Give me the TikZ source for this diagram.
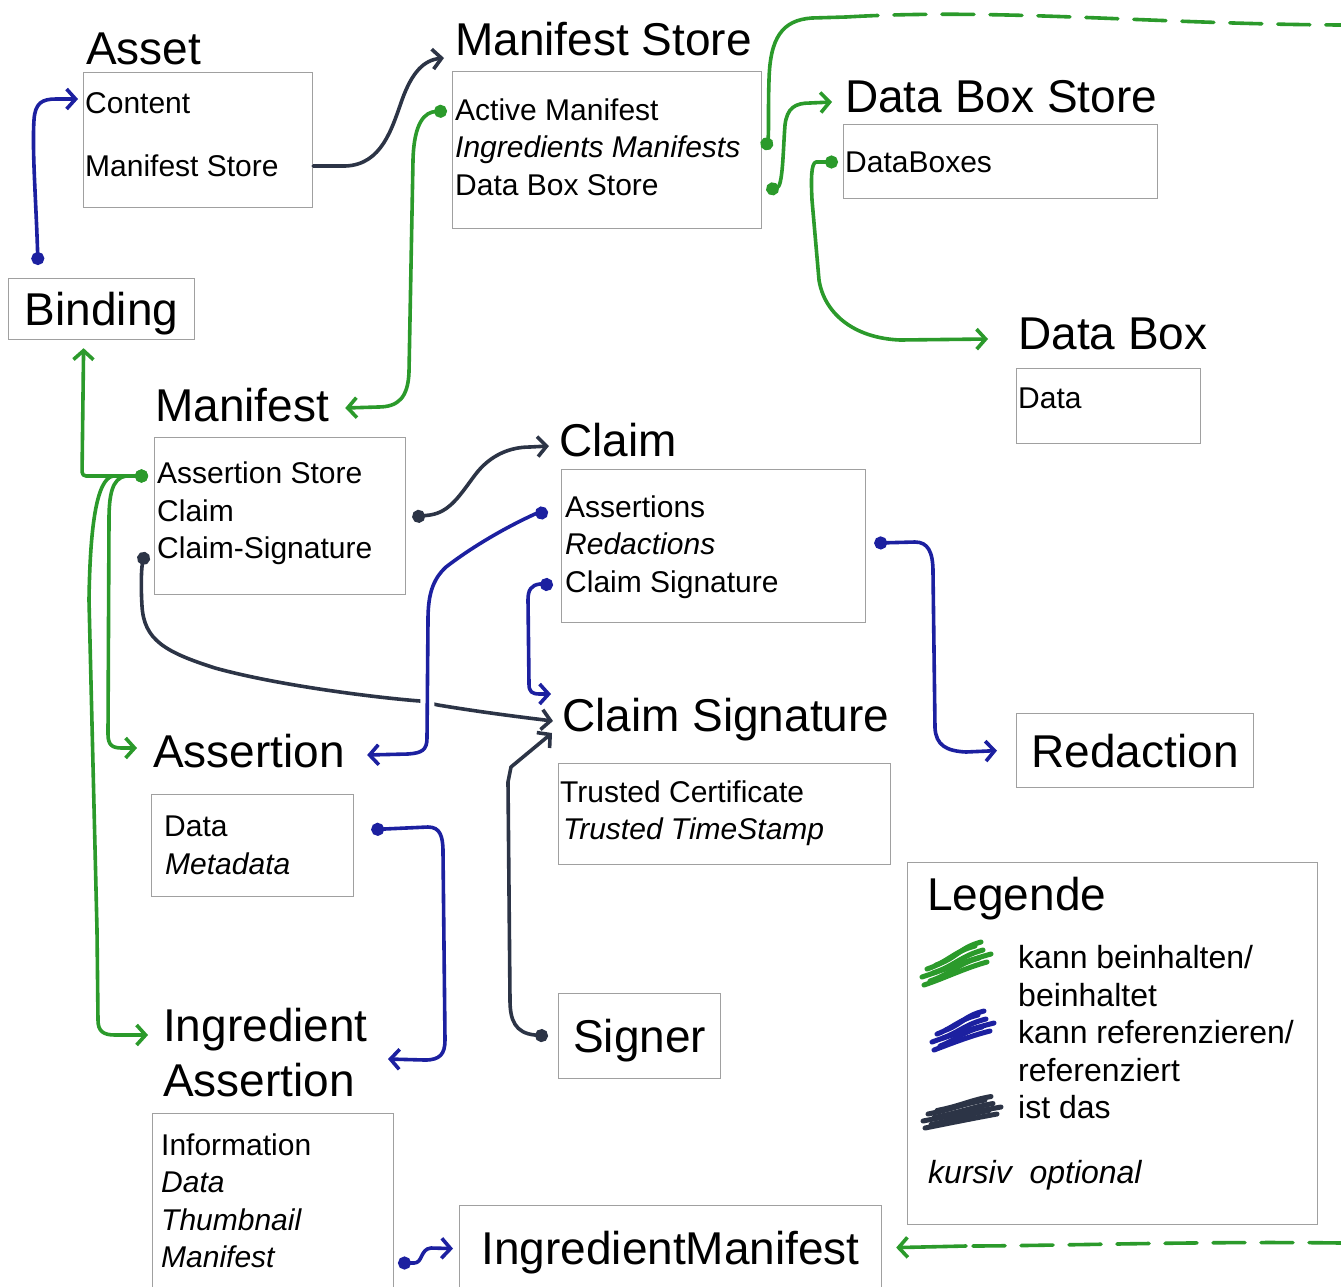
\documentclass[tikz,border=0pt]{standalone}
\usepackage{fontspec}
\setmainfont{Liberation Sans}
\usetikzlibrary{arrows.meta,calc}
\definecolor{contgreen}{HTML}{2B9A2B}
\definecolor{refblue}{HTML}{1C20A0}
\definecolor{slate}{HTML}{2C3446}
\definecolor{frame}{HTML}{A0A0A0}

\begin{document}
\begin{tikzpicture}[
  x=1pt, y=-1pt,
  box/.style={draw=frame, line width=1.2pt, inner sep=0pt, anchor=north west},
  namebox/.style={box, font=\fontsize{46}{50}\selectfont, text height=33pt, text depth=0pt},
  title/.style={font=\fontsize{46}{50}\selectfont, anchor=west, inner sep=0pt, text height=33pt, text depth=0pt},
  item/.style={font=\fontsize{30}{36}\selectfont, anchor=west, inner sep=0pt, text height=21.5pt, text depth=0pt},
  opt/.style={item, font=\fontsize{30}{36}\selectfont\itshape},
  legtxt/.style={item, font=\fontsize{32}{38}\selectfont, text height=23pt},
  conn/.style={line width=3.6pt, line cap=round, line join=round,
    arrows={Circle[length=13pt]-Straight Barb[length=9pt,width=20pt]}},
  bare/.style={arrows=-{Straight Barb[length=9pt,width=20pt]}},
  dotonly/.style={arrows={Circle[length=13pt]-}},
  tear/.style={arrows=-, dash pattern=on 32pt off 16pt},
  has/.style={conn, draw=contgreen},
  refs/.style={conn, draw=refblue},
  isa/.style={conn, draw=slate},
  scribble/.style={line width=5pt, line cap=round},
]
  % Canvas in pixel units, y pointing down.
  \fill[white] (0,0) rectangle (1341,1286);
  \useasboundingbox (0,0) rectangle (1341,1286);

  % Entity titles.
  \node[title] (asset) at (86,48) {Asset};
  \node[title] (mstore) at (455,39) {Manifest Store};
  \node[title] (dbstore) at (845,96) {Data Box Store};
  \node[title] (databox) at (1018,333) {Data Box};
  \node[title] (manifest) at (155,405) {Manifest};
  \node[title] (claim) at (559,440) {Claim};
  \node[title] (claimsig) at (562,715) {Claim Signature};
  \node[title] (assertion) at (153,751) {Assertion};
  \node[title] (ingr) at (163,1025) {Ingredient};
  \node[title] (ingr2) at (163,1080) {Assertion};

  % Member frames.
  \foreach \n/\x/\y/\w/\h in {assetbox/83/72/229/135, msbox/452/71/309/157,
      dbsbox/843/124/314/74, dbbox/1016/368/184/75, manbox/154/437/251/157,
      claimbox/561/469/304/153, csbox/558/763/332/101, assbox/151/794/202/102,
      iabox/152/1113/241/190, legbox/907/862/410/362} {
    \node[box, minimum width=\w*1pt, minimum height=\h*1pt] (\n) at (\x,\y) {};
  }

  % Entities that are only a name.
  \node[namebox, minimum width=186pt, minimum height=61pt] (binding) at (8,278) {Binding};
  \node[namebox, minimum width=237pt, minimum height=74pt] (redbox) at (1016,713) {Redaction};
  \node[namebox, minimum width=162pt, minimum height=85pt] (signbox) at (558,993) {Signer};
  \node[namebox, minimum width=422pt, minimum height=84pt] (imbox) at (459,1205) {IngredientManifest};

  % Members; optional ones in italics.
  \foreach \n/\x/\y/\t in {content/85/103/Content, assetms/85/166/Manifest Store,
      activeman/455/110/Active Manifest, dbstoreitem/455/185/Data Box Store,
      databoxes/845/162/DataBoxes, dataitem/1018/398/Data,
      assstore/157/473/Assertion Store, claimitem/157/511/Claim,
      claimsigitem/157/548/Claim-Signature, assertions/565/507/Assertions,
      claimsigref/565/582/Claim Signature, trustcert/560/792/Trusted Certificate,
      assdata/164/826/Data, info/161/1145/Information} {
    \node[item] (\n) at (\x,\y) {\t};
  }
  \foreach \n/\x/\y/\t in {ingrman/455/147/Ingredients Manifests,
      redactions/565/544/Redactions, trustts/563/829/Trusted TimeStamp,
      assmeta/165/864/Metadata, iadata/161/1182/Data,
      thumb/161/1220/Thumbnail, iamanifest/161/1257/Manifest} {
    \node[opt] (\n) at (\x,\y) {\t};
  }

  % Off-page ends of the Ingredients Manifests link.
  \coordinate (toptear) at (846,17);
  \coordinate (offtop) at (1341,25);
  \coordinate (bottear) at (966,1246);
  \coordinate (offbot) at (1341,1243);

  % "ist das" links.
  \draw[isa, bare] (assetms -| assetbox.east) -- (345,166) .. controls (382,165) and (392,128) .. (402,100)
    .. controls (412,72) and (424,60) .. ($(mstore.west)+(-11,19)$);
  \draw[isa] ($(manbox.east)+(6,1)$) -- (430,515) .. controls (450,512) and (460,495) .. (475,475)
    .. controls (490,455) and (510,447) .. (530,447) -- ($(claim.west)+(-10,6)$);
  \draw[isa] ($(claimsigitem.west)+(-12,4)$) .. controls (141,570) and (141,590) .. (142,606)
    .. controls (144,640) and (165,652) .. (215,668) .. controls (280,686) and (380,698) .. (420,701)
    -- (438,705) .. controls (480,712) and (520,717) .. ($(claimsig.west)+(-9,6)$);
  \draw[isa] ($(signbox.west)+(-10,0)$) -- (535,1035) .. controls (515,1033) and (510,1020) .. (510,1000)
    -- (508,782) -- (511,767) -- ($(claimsig.west)+(-10,18)$);

  % "kann beinhalten" links.
  \draw[has] ($(activeman.west)+(-8,1)$) .. controls (425,112) and (414,122) .. (413,160) -- (409,372)
    .. controls (408,398) and (398,407) .. (378,407) -- ($(manifest.east)+(16,3)$);
  \draw[has, dotonly] ($(msbox.east)+(3,0)$) .. controls (769,135) and (768,110) .. (769,80)
    .. controls (770,38) and (782,20) .. (812,18) -- (toptear);
  \draw[has, tear] (toptear) .. controls (1000,8) and (1150,24) .. (offtop);
  \draw[has, tear] (offbot) .. controls (1200,1241) and (1050,1246) .. (bottear);
  \draw[has, bare] (bottear) -- ($(imbox.east)+(14,0)$);
  \draw[has] ($(msbox.east)+(4,40)$) -- (777,188) .. controls (783,186) and (783,150) .. (785,125)
    .. controls (787,108) and (795,103) .. (810,103) -- ($(dbstore.west)+(-13,6)$);
  \draw[has] ($(databoxes.west)+(-7,0)$) -- (816,162) .. controls (811,163) and (811,180) .. (812,200)
    -- (819,280) .. controls (824,312) and (852,338) .. (900,340) -- ($(databox.west)+(-30,6)$);
  \draw[has, rounded corners=4pt] ($(assstore.west)+(-9,3)$) -- (82,476) -- ($(binding.south)+(-18,8)$);
  \draw[has] ($(assstore.west)+(-9,3)$) -- (126,476) .. controls (112,478) and (109,495) .. (109,520)
    -- (108,734) .. controls (108,745) and (112,748) .. (122,748) -- ($(assertion.west)+(-16,-3)$);
  \draw[has] ($(assstore.west)+(-9,3)$) -- (113,476) .. controls (96,479) and (90,530) .. (89,600)
    -- (97,930) -- (98,1020) .. controls (98,1031) and (103,1035) .. (115,1035) -- ($(ingr.west)+(-15,10)$);

  % "kann referenzieren" links.
  \draw[refs] ($(binding.north west)+(30,-13)$) .. controls (36,200) and (32,150) .. (34,120)
    .. controls (35,103) and (42,99) .. (56,99) -- ($(content.west)+(-7,-4)$);
  \draw[refs, preaction={draw=white, line width=14pt, arrows=-}] ($(assertions.west)+(-17,5)$) -- (535,514)
    .. controls (500,530) and (468,550) .. (446,567) .. controls (432,580) and (428,596) .. (428,620)
    -- (427,738) .. controls (427,750) and (422,753) .. (408,754) -- ($(assertion.east)+(22,4)$);
  \draw[refs] ($(claimsigref.west)+(-12,3)$) -- (540,584) .. controls (531,585) and (528,590) .. (528,600)
    -- (529,684) .. controls (529,692) and (532,694) .. (540,694) -- ($(claimsig.west)+(-11,-21)$);
  \draw[refs] ($(claimbox.east)+(8,-3)$) -- (915,542) .. controls (928,542) and (933,552) .. (933,572)
    -- (935,728) .. controls (936,745) and (946,751) .. (966,752) -- ($(redbox.west)+(-19,0)$);
  \draw[refs] ($(assbox.east)+(17,-16)$) -- (428,827) .. controls (440,827) and (443,836) .. (443,852)
    -- (445,1040) .. controls (445,1054) and (440,1060) .. (425,1060) -- ($(ingr.east)+(20,34)$);
  \draw[refs] ($(iamanifest.west)+(237,6)$) -- (414,1263) .. controls (423,1263) and (420,1249) .. (431,1248)
    -- ($(imbox.west)+(-6,1)$);

  % Legend with scribbled colour swatches.
  \node[title] (legend) at (927,894) {Legende};
  \foreach \k/\a/\b in {0/0/0, 1/6/-8, 2/-2/4, 3/9/-4, 4/3/-12, 5/12/-6} {
    \draw[scribble, contgreen] (924+\a,985-4*\k) .. controls (945+\a,978-4*\k) and (965+\b,968-4*\k) .. (987+\b,962-4*\k);
    \draw[scribble, refblue] (934+\a,1050-4*\k) .. controls (950+\a,1044-4*\k) and (970+\b,1036-4*\k) .. (990+\b,1031-4*\k);
    \draw[scribble, slate] (925+\a,1128-3.5*\k) .. controls (950+\a,1123-3.5*\k) and (975+\b,1118-3.5*\k) .. (997+\b,1114-3.5*\k);
  }
  \node[legtxt] (leghas) at (1018,957) {kann beinhalten/};
  \node[legtxt] (leghas2) at (1018,995) {beinhaltet};
  \node[legtxt] (legref) at (1018,1032) {kann referenzieren/};
  \node[legtxt] (legref2) at (1018,1070) {referenziert};
  \node[legtxt] (legisa) at (1018,1107) {ist das};
  \node[legtxt, font=\fontsize{32}{38}\selectfont\itshape] (legopt) at (928,1172) {kursiv\ \ optional};
\end{tikzpicture}
\end{document}
